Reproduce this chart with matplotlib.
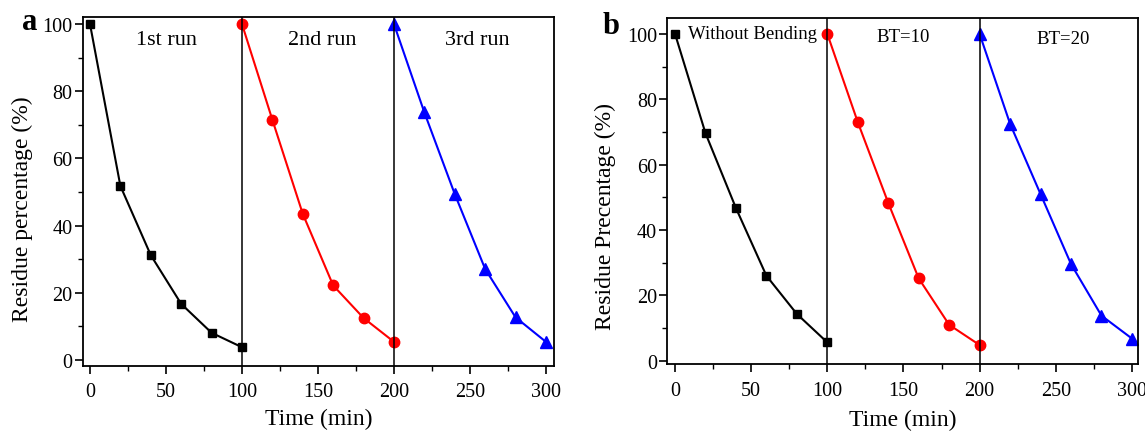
import matplotlib
matplotlib.use("Agg")
import matplotlib.pyplot as plt
from matplotlib.ticker import MultipleLocator

plt.rcParams['font.family'] = ['Liberation Serif', 'DejaVu Serif']

# Panel a data
a_t1 = [0, 20, 40, 60, 80, 100]
a_r1 = [100, 51.8, 31.2, 16.7, 8.1, 3.8]
a_t2 = [100, 120, 140, 160, 180, 200]
a_r2 = [100, 71.5, 43.5, 22.2, 12.5, 5.4]
a_t3 = [200, 220, 240, 260, 280, 300]
a_r3 = [100, 73.7, 49.4, 27.1, 12.7, 5.4]
a_labels = ["1st run", "2nd run", "3rd run"]

# Panel b data
b_t1 = [0, 20, 40, 60, 80, 100]
b_r1 = [100, 69.6, 46.7, 26.0, 14.3, 5.6]
b_t2 = [100, 120, 140, 160, 180, 200]
b_r2 = [100, 73.0, 48.3, 25.2, 11.0, 4.8]
b_t3 = [200, 220, 240, 260, 280, 300]
b_r3 = [100, 72.5, 51.0, 29.6, 13.8, 6.8]
b_labels = ["Without Bending", "BT=10", "BT=20"]

fig = plt.figure(figsize=(11.45, 4.35), dpi=100)
W, H = 1145, 435
axa = fig.add_axes([83 / W, 1 - 366.7 / H, (554.3 - 83) / W, (366.7 - 18) / H])
axb = fig.add_axes([667.3 / W, 1 - 365 / H, (1138.3 - 667.3) / W, (365 - 19.3) / H])

def style(ax, ylim, xlim, ylabel, xl_y, yl_x, yl_y):
    ax.set_xlim(*xlim)
    ax.set_ylim(*ylim)
    ax.xaxis.set_major_locator(MultipleLocator(50))
    ax.xaxis.set_minor_locator(MultipleLocator(25))
    ax.yaxis.set_major_locator(MultipleLocator(20))
    ax.yaxis.set_minor_locator(MultipleLocator(10))
    ax.tick_params(which='major', direction='out', length=6, width=1.2, labelsize=14.5,
                   top=False, right=False)
    ax.tick_params(axis='x', which='major', pad=6)
    ax.tick_params(axis='y', which='major', pad=1.5)
    ax.tick_params(which='minor', direction='out', length=3.5, width=1.0,
                   top=False, right=False)
    for s in ax.spines.values():
        s.set_linewidth(1.3)
    ax.set_xlabel("Time (min)", fontsize=17)
    ax.xaxis.set_label_coords(0.5, xl_y)
    ax.xaxis.label.set_va('top')
    ax.set_ylabel(ylabel, fontsize=17)
    ax.yaxis.set_label_coords(yl_x, yl_y)
    ax.yaxis.label.set_va('center')
    ax.axvline(100, color='black', lw=1.1)
    ax.axvline(200, color='black', lw=1.1)

# Panel a
axa.plot(a_t1, a_r1, color='black', marker='s', ms=6.2, lw=1.5)
axa.plot(a_t2, a_r2, color='red', marker='o', ms=7.5, lw=1.5)
axa.plot(a_t3, a_r3, color='blue', marker='^', ms=8.5, lw=1.5)
style(axa, (-1.7, 102.1), (-4.6, 305.5), "Residue percentage (%)", -0.122, -0.129, 0.452)
axa.text(50.3, 95.5, a_labels[0], ha='center', va='center', fontsize=16)
axa.text(153, 95.5, a_labels[1], ha='center', va='center', fontsize=16)
axa.text(255, 95.5, a_labels[2], ha='center', va='center', fontsize=16)
fig.text(22 / W, 1 - 30 / H, "a", fontsize=22, fontweight='bold', ha='left', va='baseline')

# Panel b
axb.plot(b_t1, b_r1, color='black', marker='s', ms=6.2, lw=1.5)
axb.plot(b_t2, b_r2, color='red', marker='o', ms=7.5, lw=1.5)
axb.plot(b_t3, b_r3, color='blue', marker='^', ms=8.5, lw=1.5)
style(axb, (-1.0, 104.8), (-5.1, 304.2), "Residue Precentage (%)", -0.13, -0.132, 0.43)
axb.text(8.7, 100, b_labels[0], ha='left', va='center', fontsize=13.5)
axb.text(149.7, 99.3, b_labels[1], ha='center', va='center', fontsize=13.5)
axb.text(254.6, 98.5, b_labels[2], ha='center', va='center', fontsize=13.5)
fig.text(603 / W, 1 - 34 / H, "b", fontsize=22, fontweight='bold', ha='left', va='baseline')

fig.savefig("out.png", dpi=100)
